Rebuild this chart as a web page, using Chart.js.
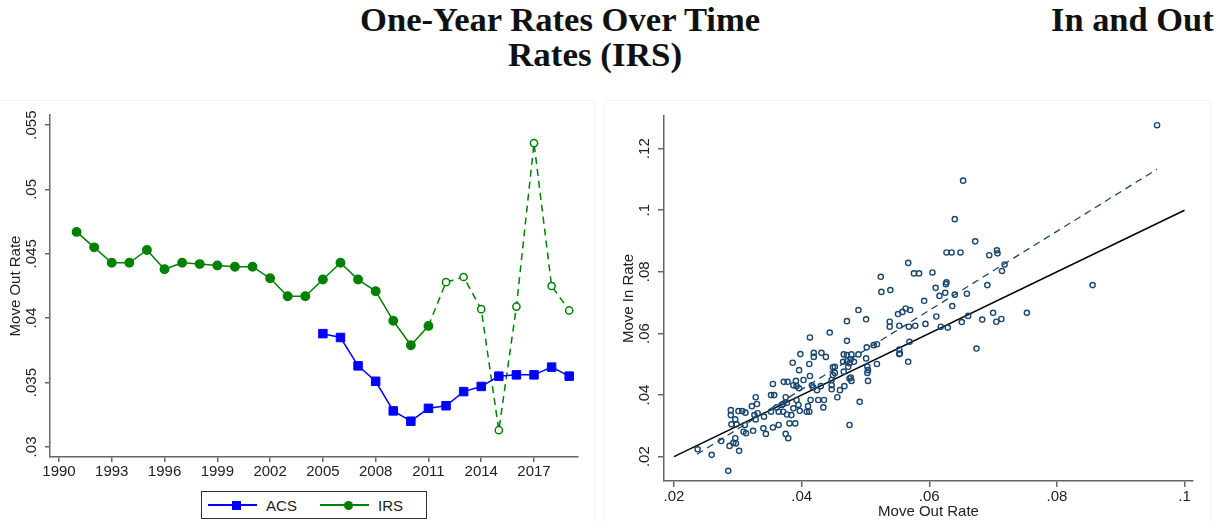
<!DOCTYPE html>
<html lang="en">
<head>
<meta charset="UTF-8">
<title>One-Year Rates Over Time</title>
<script src="https://cdn.jsdelivr.net/npm/chart.js"></script>
<style>
  * { box-sizing: border-box; margin: 0; padding: 0; }
  body {
    width: 1230px; height: 521px; background: #fff;
    position: relative; overflow: hidden;
    font-family: 'Liberation Sans', Arial, sans-serif;
  }
  .title {
    position: absolute;
    font-family: 'Liberation Serif', 'Times New Roman', serif;
    font-weight: bold; font-size: 34px; line-height: 34px;
    color: #111; white-space: nowrap; transform-origin: 0 0;
  }
  .panel { position: absolute; top: 100px; height: 440px; border: 1px solid #f4f4f4; }
  .wrap { position: absolute; top: 80px; height: 441px; }
  #legend {
    position: absolute; left: 201px; top: 491px; width: 226px; height: 28px;
    border: 1px solid #333; display: flex; align-items: center;
    padding-left: 6px; font-size: 15px; color: #222; background: #fff;
  }
  .key { position: relative; width: 57px; height: 12px; margin-right: 9px; }
  .key .ln { position: absolute; left: 0; right: 0; top: 5px; height: 1.5px; }
  .key .mk { position: absolute; left: 24px; top: 1.5px; width: 9px; height: 9px; }
  .lbl { margin-right: 23px; }
</style>
</head>
<body>
  <div class="panel" style="left:-1px; width:596px;"></div>
  <div class="panel" style="left:604px; width:607px;"></div>

  <div class="title" data-w="400" style="left:360px; top:3px;">One-Year Rates Over Time</div>
  <div class="title" data-w="174" style="left:508px; top:38px;">Rates (IRS)</div>
  <div class="title" data-w="163" style="left:1051px; top:3px;">In and Out</div>

  <div class="wrap" style="left:0; width:600px;"><canvas id="rateChart" width="600" height="441"></canvas></div>
  <div class="wrap" style="left:600px; width:630px;"><canvas id="flowChart" width="630" height="441"></canvas></div>
  <div id="legend"></div>

<script>
// left panel: one-year move out rates
const years = [1991, 1992, 1993, 1994, 1995, 1996, 1997, 1998, 1999, 2000,
               2001, 2002, 2003, 2004, 2005, 2006, 2007, 2008, 2009, 2010,
               2011, 2012, 2013, 2014, 2015, 2016, 2017, 2018, 2019];
const irsRate = [0.0467, 0.0455, 0.0443, 0.0443, 0.0453, 0.0438, 0.0443, 0.0442, 0.0441, 0.0440,
                 0.0440, 0.0431, 0.0417, 0.0417, 0.0430, 0.0443, 0.0430, 0.0421, 0.0398, 0.0379,
                 0.0394, 0.0428, 0.0432, 0.0407, 0.0313, 0.0409, 0.0536, 0.0425, 0.0406];
const acsYears = [2005, 2006, 2007, 2008, 2009, 2010, 2011, 2012, 2013, 2014, 2015, 2016, 2017, 2018, 2019];
const acsRate = [0.0388, 0.0385, 0.0363, 0.0351, 0.0328, 0.0320, 0.0330, 0.0332, 0.0343, 0.0347,
                 0.0355, 0.0356, 0.0356, 0.0362, 0.0355];
const irsHollowFrom = 2012;
const seriesNames = ['ACS', 'IRS'];
const yearTicks = [1990, 1993, 1996, 1999, 2002, 2005, 2008, 2011, 2014, 2017];
const outTicks = [0.03, 0.035, 0.04, 0.045, 0.05, 0.055];
const outTickLabels = ['.03', '.035', '.04', '.045', '.05', '.055'];

// right panel: move in vs move out
const moveOutRate = [
  0.0237, 0.0259, 0.0274, 0.0285, 0.0289, 0.0289, 0.0301, 0.0307, 0.0312, 0.0296, 0.0290, 0.0298,
  0.0311, 0.0309, 0.0313, 0.0324, 0.0296, 0.0293, 0.0297, 0.0287, 0.0302, 0.0328, 0.0330, 0.0322,
  0.0326, 0.0331, 0.0328, 0.0341, 0.0340, 0.0344, 0.0352, 0.0357, 0.0355, 0.0352, 0.0361, 0.0355,
  0.0364, 0.0369, 0.0364, 0.0371, 0.0371, 0.0377, 0.0375, 0.0372, 0.0378, 0.0377, 0.0381, 0.0375,
  0.0379,
  0.0489, 0.0471, 0.0501, 0.0551, 0.0558, 0.0563, 0.0570, 0.0538, 0.0538, 0.0553, 0.0568, 0.0578,
  0.0413, 0.0444, 0.0471, 0.0502, 0.0513, 0.0518, 0.0569, 0.0553, 0.0553, 0.0567, 0.0386, 0.0398,
  0.0419, 0.0419, 0.0431, 0.0438, 0.0412, 0.0396, 0.0413, 0.0403, 0.0391, 0.0387, 0.0392, 0.0396,
  0.0416, 0.0418, 0.0430, 0.0424, 0.0466, 0.0471, 0.0478, 0.0489, 0.0477, 0.0471, 0.0475, 0.0482,
  0.0465, 0.0452, 0.0449, 0.0452, 0.0466, 0.0473, 0.0501, 0.0503, 0.0504, 0.0503, 0.0518, 0.0449,
  0.0447, 0.0447, 0.0447, 0.0460, 0.0467, 0.0477, 0.0478, 0.0475, 0.0504, 0.0456, 0.0491, 0.0434,
  0.0435, 0.0426, 0.0414, 0.0410, 0.0412, 0.0408, 0.0397, 0.0395, 0.0392, 0.0387, 0.0384, 0.0390,
  0.0475, 0.0554,
  0.0653, 0.0640, 0.0672, 0.0627, 0.0635, 0.0649, 0.0694, 0.0706, 0.0707, 0.0567, 0.0576, 0.0584,
  0.0605, 0.0524, 0.0525, 0.0539, 0.0610, 0.0627, 0.0626, 0.0625, 0.0616, 0.0640, 0.0659, 0.0691,
  0.0718, 0.0714, 0.0592, 0.0636, 0.0611, 0.0618, 0.0629, 0.0651, 0.0661, 0.0683, 0.0700, 0.0705,
  0.0713, 0.0753, 0.0594, 0.0674, 0.0856, 0.0957
];
const moveInRate = [
  0.0224, 0.0206, 0.0251, 0.0154, 0.0351, 0.0335, 0.0348, 0.0348, 0.0343, 0.0321, 0.0305, 0.0305,
  0.0303, 0.0281, 0.0276, 0.0284, 0.0260, 0.0245, 0.0243, 0.0235, 0.0219, 0.0393, 0.0371, 0.0364,
  0.0335, 0.0341, 0.0321, 0.0330, 0.0292, 0.0274, 0.0400, 0.0400, 0.0436, 0.0346, 0.0360, 0.0295,
  0.0303, 0.0368, 0.0346, 0.0346, 0.0371, 0.0375, 0.0393, 0.0443, 0.0443, 0.0337, 0.0308, 0.0274,
  0.0260,
  0.0676, 0.0640, 0.0646, 0.0663, 0.0670, 0.0681, 0.0676, 0.0638, 0.0622, 0.0625, 0.0622, 0.0625,
  0.0587, 0.0603, 0.0576, 0.0555, 0.0562, 0.0565, 0.0573, 0.0548, 0.0533, 0.0508, 0.0505, 0.0533,
  0.0537, 0.0524, 0.0537, 0.0524, 0.0501, 0.0481, 0.0462, 0.0449, 0.0446, 0.0432, 0.0429, 0.0422,
  0.0432, 0.0425, 0.0429, 0.0416, 0.0532, 0.0530, 0.0532, 0.0532, 0.0516, 0.0510, 0.0503, 0.0508,
  0.0508, 0.0492, 0.0490, 0.0472, 0.0476, 0.0492, 0.0519, 0.0492, 0.0481, 0.0472, 0.0501, 0.0465,
  0.0449, 0.0432, 0.0419, 0.0416, 0.0429, 0.0457, 0.0446, 0.0454, 0.0446, 0.0393, 0.0378, 0.0360,
  0.0384, 0.0384, 0.0384, 0.0364, 0.0346, 0.0346, 0.0349, 0.0368, 0.0384, 0.0357, 0.0335, 0.0308,
  0.0303, 0.0535,
  0.1096, 0.0971, 0.0899, 0.0863, 0.0863, 0.0863, 0.0854, 0.0870, 0.0860, 0.0829, 0.0795, 0.0795,
  0.0798, 0.0784, 0.0735, 0.0741, 0.0748, 0.0766, 0.0760, 0.0732, 0.0722, 0.0726, 0.0729, 0.0757,
  0.0824, 0.0803, 0.0706, 0.0689, 0.0655, 0.0622, 0.0619, 0.0637, 0.0657, 0.0645, 0.0667, 0.0638,
  0.0647, 0.0667, 0.0631, 0.0551, 0.0757, 0.1276
];
const fitOut = [0.0236, 0.0957];
const fitIn = [0.0208, 0.1133];
const diagOut = [0.02, 0.1];
const diagIn = [0.02, 0.1];
const outRateTicks = [0.02, 0.04, 0.06, 0.08, 0.1];
const outRateLabels = ['.02', '.04', '.06', '.08', '.1'];
const inRateTicks = [0.02, 0.04, 0.06, 0.08, 0.1, 0.12];
const inRateLabels = ['.02', '.04', '.06', '.08', '.1', '.12'];

const axisGray = '#666666';
const textColor = '#222222';
const font15 = { family: "'Liberation Sans', Arial, sans-serif", size: 15 };
const green = '#008000';
const blue = '#0000ff';
const navy = '#1a476f';

// y tick labels read bottom-to-top in the original, so draw them rotated
const rotatedYLabels = {
  id: 'rotatedYLabels',
  afterDraw(chart, args, opts) {
    const s = chart.scales.y, ctx = chart.ctx;
    ctx.save();
    ctx.font = "15px 'Liberation Sans', Arial, sans-serif";
    ctx.fillStyle = textColor;
    ctx.textAlign = 'center';
    ctx.textBaseline = 'middle';
    s.ticks.forEach((t, i) => {
      ctx.save();
      ctx.translate(opts.x, s.getPixelForValue(t.value));
      ctx.rotate(-Math.PI / 2);
      ctx.fillText(opts.labels[i], 0, 0);
      ctx.restore();
    });
    ctx.restore();
  }
};

function axisBase(tickLen) {
  return {
    border: { display: true, color: axisGray, width: 1.5 },
    grid: { drawOnChartArea: false, drawTicks: true, tickLength: tickLen, color: axisGray, lineWidth: 1.5 }
  };
}

const rateChart = new Chart(document.getElementById('rateChart'), {
  type: 'line',
  plugins: [rotatedYLabels],
  data: {
    datasets: [
      {
        label: seriesNames[0],
        data: acsYears.map((y, i) => ({ x: y, y: acsRate[i] })),
        borderColor: blue, backgroundColor: blue, borderWidth: 1.5,
        pointStyle: 'rect', pointRadius: 6, pointBorderWidth: 1,
        pointBackgroundColor: blue, pointBorderColor: blue
      },
      {
        label: seriesNames[1],
        data: years.map((y, i) => ({ x: y, y: irsRate[i] })),
        borderColor: green, backgroundColor: green, borderWidth: 1.5,
        pointStyle: 'circle',
        pointRadius: years.map(y => y >= irsHollowFrom ? 3.6 : 4.2),
        pointBorderWidth: 1.5,
        pointBorderColor: green,
        pointBackgroundColor: years.map(y => y >= irsHollowFrom ? '#ffffff' : green),
        segment: { borderDash: c => years[c.p0DataIndex] >= irsHollowFrom - 1 ? [7, 5] : undefined }
      }
    ]
  },
  options: {
    responsive: false, animation: false, devicePixelRatio: 1,
    layout: { padding: { left: 0, right: 22, top: 35, bottom: 0 } },
    plugins: {
      legend: { display: false }, tooltip: { enabled: false },
      rotatedYLabels: { x: 32, labels: outTickLabels }
    },
    scales: {
      x: {
        type: 'linear', min: 1989.49, max: 2019.5,
        ...axisBase(5),
        afterBuildTicks: s => { s.ticks = yearTicks.map(v => ({ value: v })); },
        afterFit: s => { s.height = 64; },
        ticks: { autoSkip: false, maxRotation: 0, padding: 1, color: textColor, font: font15, callback: v => String(v) }
      },
      y: {
        type: 'linear', min: 0.02922, max: 0.05578,
        ...axisBase(5),
        afterBuildTicks: s => { s.ticks = outTicks.map(v => ({ value: v })); },
        afterFit: s => { s.width = 50; },
        ticks: { display: false },
        title: { display: true, text: 'Move Out Rate', color: textColor, font: font15, padding: { top: 7, bottom: 0 } }
      }
    }
  }
});

new Chart(document.getElementById('flowChart'), {
  type: 'scatter',
  plugins: [rotatedYLabels],
  data: {
    datasets: [
      {
        label: 'Move In Rate',
        data: moveOutRate.map((x, i) => ({ x, y: moveInRate[i] })),
        pointStyle: 'circle', pointRadius: 2.6, pointBorderWidth: 1.4,
        pointBorderColor: navy, pointBackgroundColor: 'rgba(0,0,0,0)'
      },
      {
        type: 'line', label: 'Fitted values',
        data: fitOut.map((x, i) => ({ x, y: fitIn[i] })),
        borderColor: navy, borderWidth: 1.3, borderDash: [7, 5], pointRadius: 0
      },
      {
        type: 'line', label: '45 degree line',
        data: diagOut.map((x, i) => ({ x, y: diagIn[i] })),
        borderColor: '#000000', borderWidth: 1.5, pointRadius: 0
      }
    ]
  },
  options: {
    responsive: false, animation: false, devicePixelRatio: 1,
    layout: { padding: { left: 0, right: 37, top: 36, bottom: 0 } },
    plugins: {
      legend: { display: false }, tooltip: { enabled: false },
      rotatedYLabels: { x: 45, labels: inRateLabels }
    },
    scales: {
      x: {
        type: 'linear', min: 0.01843, max: 0.10133,
        ...axisBase(6),
        afterBuildTicks: s => { s.ticks = outRateTicks.map(v => ({ value: v })); },
        afterFit: s => { s.height = 40; },
        ticks: { autoSkip: false, maxRotation: 0, padding: 1, color: textColor, font: font15,
                 callback: (v, i) => outRateLabels[i] },
        title: { display: true, text: 'Move Out Rate', color: textColor, font: font15, padding: { top: 0, bottom: 0 } }
      },
      y: {
        type: 'linear', min: 0.01211, max: 0.13059,
        ...axisBase(6),
        afterBuildTicks: s => { s.ticks = inRateTicks.map(v => ({ value: v })); },
        afterFit: s => { s.width = 64; },
        ticks: { display: false },
        title: { display: true, text: 'Move In Rate', color: textColor, font: font15, padding: { top: 20, bottom: 0 } }
      }
    }
  }
});

// legend for the left panel, built from its datasets
const legendBox = document.getElementById('legend');
rateChart.data.datasets.forEach(ds => {
  const key = document.createElement('span');
  key.className = 'key';
  const ln = document.createElement('i');
  ln.className = 'ln';
  ln.style.background = ds.borderColor;
  const mk = document.createElement('i');
  mk.className = 'mk';
  mk.style.background = ds.borderColor;
  if (ds.pointStyle === 'circle') mk.style.borderRadius = '50%';
  key.append(ln, mk);
  const lbl = document.createElement('span');
  lbl.className = 'lbl';
  lbl.textContent = ds.label;
  legendBox.append(key, lbl);
});

// stretch the serif titles to the widths they take in the original
document.querySelectorAll('.title').forEach(el => {
  const k = Number(el.dataset.w) / el.offsetWidth;
  el.style.transform = 'scaleX(' + k + ')';
});
</script>
</body>
</html>
